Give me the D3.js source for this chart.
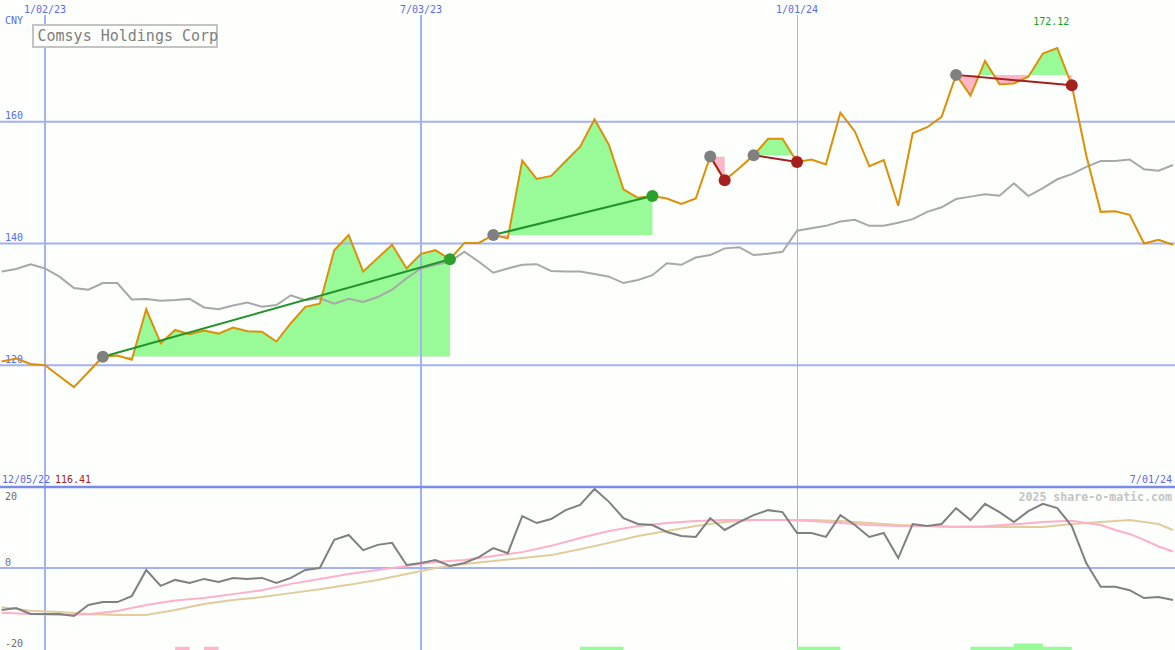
<!DOCTYPE html>
<html><head><meta charset="utf-8">
<script src="https://cdn.jsdelivr.net/npm/d3@7"></script>
<style>
html,body{margin:0;padding:0;background:#fcfffc;}
svg{display:block;}
text{font-family:"DejaVu Sans Mono","Liberation Mono",monospace;}
</style>
</head><body>
<svg id="chart" width="1175" height="650"></svg>
<script>
// ---------- DATA ----------
const firstWeek = "2022-12-12";           // first weekly observation (Monday)
const companyName = "Comsys Holdings Corp";
const currency = "CNY";
const price = [120.6,121.1,120.2,120.0,118.2,116.41,118.9,121.4,121.6,120.9,
  129.2,123.6,125.8,125.1,125.7,125.2,126.2,125.6,125.5,123.9,
  126.9,129.6,130.1,138.9,141.4,135.4,137.6,139.8,135.9,138.3,
  138.9,137.4,140.1,140.1,141.4,140.85,153.6,150.6,151.1,153.5,
  155.9,160.4,156.2,148.9,147.5,147.8,147.4,146.5,147.4,154.3,
  150.4,152.35,154.5,157.2,157.2,153.4,153.8,153.0,161.5,158.4,
  152.7,153.7,146.2,158.1,159.1,160.8,167.7,164.3,170.0,166.15,
  166.3,167.4,171.2,172.12,166.0,154.5,145.2,145.3,144.7,140.0,
  140.6,139.8];
const movingAvg = [135.4,135.8,136.6,135.9,134.55,132.7,132.4,133.5,133.5,130.8,
  130.9,130.6,130.7,130.9,129.5,129.2,129.8,130.3,129.6,129.9,
  131.5,130.7,131.0,130.1,130.9,130.4,131.2,132.4,134.3,135.9,
  136.5,137.0,138.65,137.0,135.2,135.9,136.5,136.6,135.5,135.4,
  135.4,135.0,134.55,133.5,134.0,134.8,136.75,136.5,137.7,138.1,
  139.2,139.4,138.1,138.3,138.65,142.1,142.5,142.9,143.6,143.9,
  142.9,142.9,143.4,144.0,145.2,145.95,147.3,147.7,148.1,147.85,
  149.9,147.8,149.1,150.55,151.4,152.6,153.55,153.55,153.8,152.2,
  151.96,152.9];
const oscillator = [-12.7,-12.1,-13.9,-13.9,-13.9,-14.5,-11.2,-10.3,-10.3,-8.5,
  -0.6,-5.4,-3.6,-4.5,-3.3,-4.2,-3.0,-3.3,-3.0,-4.5,
  -3.0,-0.6,0.0,8.5,10.0,5.4,7.0,7.6,0.9,1.5,
  2.4,0.6,1.5,3.3,6.0,4.5,15.7,13.6,14.8,17.5,
  19.1,23.9,20.0,15.1,13.3,13.0,10.9,9.7,9.4,15.1,
  11.5,13.9,16.0,17.5,16.9,10.6,10.6,9.4,16.0,13.0,
  9.4,10.6,3.0,13.3,12.7,13.3,18.1,14.5,19.4,16.9,
  13.9,17.2,19.4,18.1,12.7,1.5,-5.7,-5.7,-6.7,-9.1,
  -8.8,-9.7];
// smoothed oscillator lines: [week index, value]
const oscFast = [[0,-13.5],[2,-13.9],[4,-14.2],[6,-14.0],[8,-13.0],[10,-11.2],[12,-9.8],[14,-9.1],[16,-7.9],[18,-6.7],[20,-4.8],[22,-3.3],[24,-1.8],[26,-0.6],[28,0.6],[30,1.8],[32,2.4],[34,3.6],[36,4.8],[38,6.7],[40,9.1],[42,11.2],[44,12.7],[46,13.6],[48,14.2],[50,14.5],[52,14.5],[54,14.5],[56,14.2],[58,13.6],[60,13.0],[62,12.7],[64,12.7],[66,12.5],[68,12.6],[70,13.2],[72,13.9],[74,14.3],[75,13.6],[76,13.0],[77,11.5],[78,10.3],[79,8.5],[80,6.5],[81,5.0]];
const oscSlow = [[0,-11.9],[2,-12.9],[4,-13.3],[6,-13.9],[8,-14.2],[10,-14.2],[12,-12.7],[14,-10.9],[16,-9.7],[18,-8.8],[20,-7.6],[22,-6.4],[24,-5.1],[26,-3.6],[28,-1.8],[30,0],[32,1.2],[34,2.1],[36,3.0],[38,3.9],[40,5.7],[42,7.6],[44,9.7],[46,11.2],[48,12.7],[50,13.9],[52,14.5],[54,14.5],[56,14.5],[58,14.2],[60,13.6],[62,13.0],[64,12.7],[66,12.4],[68,12.4],[70,12.4],[72,12.4],[74,13.3],[76,13.9],[78,14.5],[80,13.3],[81,11.5]];
// trend segments (week indices)
const trendStart = [7, 34, 49, 52, 66];
const trendEnd   = [31, 45, 50, 55, 74];
// signal bars at bottom: [from index, to index, level, kind]
const signalBars = [[12,13,1,"neg"],[14,15,1,"neg"],[40,43,1,"pos"],[55,58,1,"pos"],[67,74,1,"pos"],[70,72,2,"pos"]];
// axis ticks
const dateTicks = ["2023-01-02","2023-07-03","2024-01-01"];
const priceTicks = [120, 140, 160];
const oscTicks = [20, 0, -20];
const rangeStartLabel = "12/05/22";
const rangeEndLabel = "7/01/24";
const copyright = "2025 share-o-matic.com";

// ---------- SETUP ----------
const W = 1175, H = 650, split = 487;
const svg = d3.select("#chart");
const parse = d3.utcParse("%Y-%m-%d");
const fmt = d3.utcFormat("%-m/%d/%y");
const d0 = parse(firstWeek);
const dates = price.map((_, i) => d3.utcDay.offset(d0, 7 * i));
const dt = i => d3.utcDay.offset(d0, 7 * i);

const x = d3.scaleUtc().domain([parse("2023-01-02"), parse("2024-01-01")]).range([45, 797]);
const yP = d3.scaleLinear().domain([100, 180]).range([split, 0]);
const yO = d3.scaleLinear().domain([-24.5, 24.5]).range([649, split]);

const C = {
  grid: "#a4b2f4", sep: "#7b8be8", label: "#5a6aec",
  price: "#dc9008", ma: "#a8a8a8", up: "#98fb98", down: "#ffb6c8",
  upLine: "#22922a", downLine: "#a3201f", upDot: "#2ca02c", downDot: "#a3201f", startDot: "#808080",
  osc: "#808080", fast: "#ffb0c8", slow: "#e2cc9c"
};

const defs = svg.append("defs");
defs.append("clipPath").attr("id", "topClip").append("rect").attr("x", 0).attr("y", 0).attr("width", W).attr("height", split);
defs.append("clipPath").attr("id", "botClip").append("rect").attr("x", 0).attr("y", split).attr("width", W).attr("height", H - split);

svg.append("rect").attr("width", W).attr("height", H).attr("fill", "#fcfffc");

const gFill = svg.append("g").attr("clip-path", "url(#topClip)");
const gGrid = svg.append("g");
const gLab = svg.append("g");
const gTop = svg.append("g").attr("clip-path", "url(#topClip)");
const gBot = svg.append("g").attr("clip-path", "url(#botClip)");

// ---------- TREND FILLS ----------
trendStart.forEach((s, k) => {
  const e = trendEnd[k];
  const base = price[s];
  const idx = d3.range(s, e + 1);
  const area = d3.area().x(i => x(dt(i))).y0(yP(base)).y1(i => yP(price[i]));
  defs.append("clipPath").attr("id", "tu" + k).append("rect")
    .attr("x", 0).attr("y", 0).attr("width", W).attr("height", yP(base));
  defs.append("clipPath").attr("id", "td" + k).append("rect")
    .attr("x", 0).attr("y", yP(base)).attr("width", W).attr("height", split - yP(base));
  gFill.append("path").attr("d", area(idx)).attr("fill", C.up).attr("clip-path", `url(#tu${k})`);
  gFill.append("path").attr("d", area(idx)).attr("fill", C.down).attr("clip-path", `url(#td${k})`);
});

// ---------- GRID ----------
priceTicks.forEach(v => {
  gGrid.append("line").attr("x1", 0).attr("x2", W).attr("y1", yP(v)).attr("y2", yP(v))
    .attr("stroke", C.grid).attr("stroke-width", 2);
});
dateTicks.forEach((d, k) => {
  const xx = Math.round(x(parse(d))) + (k < 2 ? 0 : 0.5);
  gGrid.append("line").attr("x1", xx).attr("x2", xx).attr("y1", 15).attr("y2", H)
    .attr("stroke", C.grid).attr("stroke-width", k < 2 ? 2 : 1);
});
gGrid.append("line").attr("x1", 0).attr("x2", W).attr("y1", yO(0)).attr("y2", yO(0))
  .attr("stroke", C.grid).attr("stroke-width", 2);
gGrid.append("line").attr("x1", 0).attr("x2", W).attr("y1", split).attr("y2", split)
  .attr("stroke", C.sep).attr("stroke-width", 2.5);

// ---------- LABELS ----------
const lab = (t, xx, yy, col, anchor, size, weight) => gLab.append("text").text(t)
  .attr("x", xx).attr("y", yy).attr("fill", col).attr("font-size", size || 10)
  .attr("text-anchor", anchor || "start").attr("font-weight", weight || "normal");

dateTicks.forEach(d => lab(fmt(parse(d)), x(parse(d)), 13, C.label, "middle"));
lab(currency, 5, 24, C.label);
priceTicks.forEach(v => lab(String(v), 5, yP(v) - 2.5, C.label));
oscTicks.forEach(v => lab(String(v), 5, v >= 0 ? yO(v) - 2 : yO(v) + 13, "#6c6c6c"));
lab(rangeStartLabel, 2, 483, C.label);
const minV = d3.min(price), maxV = d3.max(price);
lab(minV.toFixed(2), 55, 483, "#a3201f");
lab(rangeEndLabel, 1172, 483, C.label, "end");
lab(copyright, 1172, 501, "#c4c4c4", "end", 11.6, "bold");
const maxI = price.indexOf(maxV);
lab(maxV.toFixed(2), x(dt(maxI)) - 6, 25, "#22a022", "middle");

// legend box
gLab.append("rect").attr("x", 33).attr("y", 25).attr("width", 184).attr("height", 22)
  .attr("fill", "#fcfffc").attr("stroke", "#c4c4c4").attr("stroke-width", 2);
lab(companyName, 37.5, 41, "#808080", "start", 15);

// ---------- LINES (top) ----------
const lineP = d3.line().x((d, i) => x(dates[i])).y(d => yP(d));
gTop.append("path").attr("d", lineP(movingAvg)).attr("fill", "none").attr("stroke", C.ma).attr("stroke-width", 2);
gTop.append("path").attr("d", lineP(price)).attr("fill", "none").attr("stroke", C.price).attr("stroke-width", 2);

trendStart.forEach((s, k) => {
  const e = trendEnd[k];
  const upT = price[e] >= price[s];
  gTop.append("line").attr("x1", x(dt(s))).attr("y1", yP(price[s])).attr("x2", x(dt(e))).attr("y2", yP(price[e]))
    .attr("stroke", upT ? C.upLine : C.downLine).attr("stroke-width", 2);
});
trendStart.forEach((s, k) => {
  const e = trendEnd[k];
  const upT = price[e] >= price[s];
  gTop.append("circle").attr("cx", x(dt(s))).attr("cy", yP(price[s])).attr("r", 6).attr("fill", C.startDot);
  gTop.append("circle").attr("cx", x(dt(e))).attr("cy", yP(price[e])).attr("r", 6).attr("fill", upT ? C.upDot : C.downDot);
});

// ---------- BOTTOM PANEL ----------
const lineO = d3.line().x((d, i) => x(dates[i])).y(d => yO(d));
const lineS = d3.line().x(d => x(dt(d[0]))).y(d => yO(d[1]));
gBot.append("path").attr("d", lineS(oscSlow)).attr("fill", "none").attr("stroke", C.slow).attr("stroke-width", 2);
gBot.append("path").attr("d", lineS(oscFast)).attr("fill", "none").attr("stroke", C.fast).attr("stroke-width", 2);
gBot.append("path").attr("d", lineO(oscillator)).attr("fill", "none").attr("stroke", C.osc).attr("stroke-width", 2);

const yBar = d3.scaleLinear().domain([0, 2]).range([H, 643.5]);
signalBars.forEach(b => {
  gBot.append("rect").attr("x", x(dt(b[0]))).attr("width", x(dt(b[1])) - x(dt(b[0])))
    .attr("y", yBar(b[2])).attr("height", H - yBar(b[2]))
    .attr("fill", b[3] === "pos" ? C.up : C.down);
});
</script>
</body></html>
